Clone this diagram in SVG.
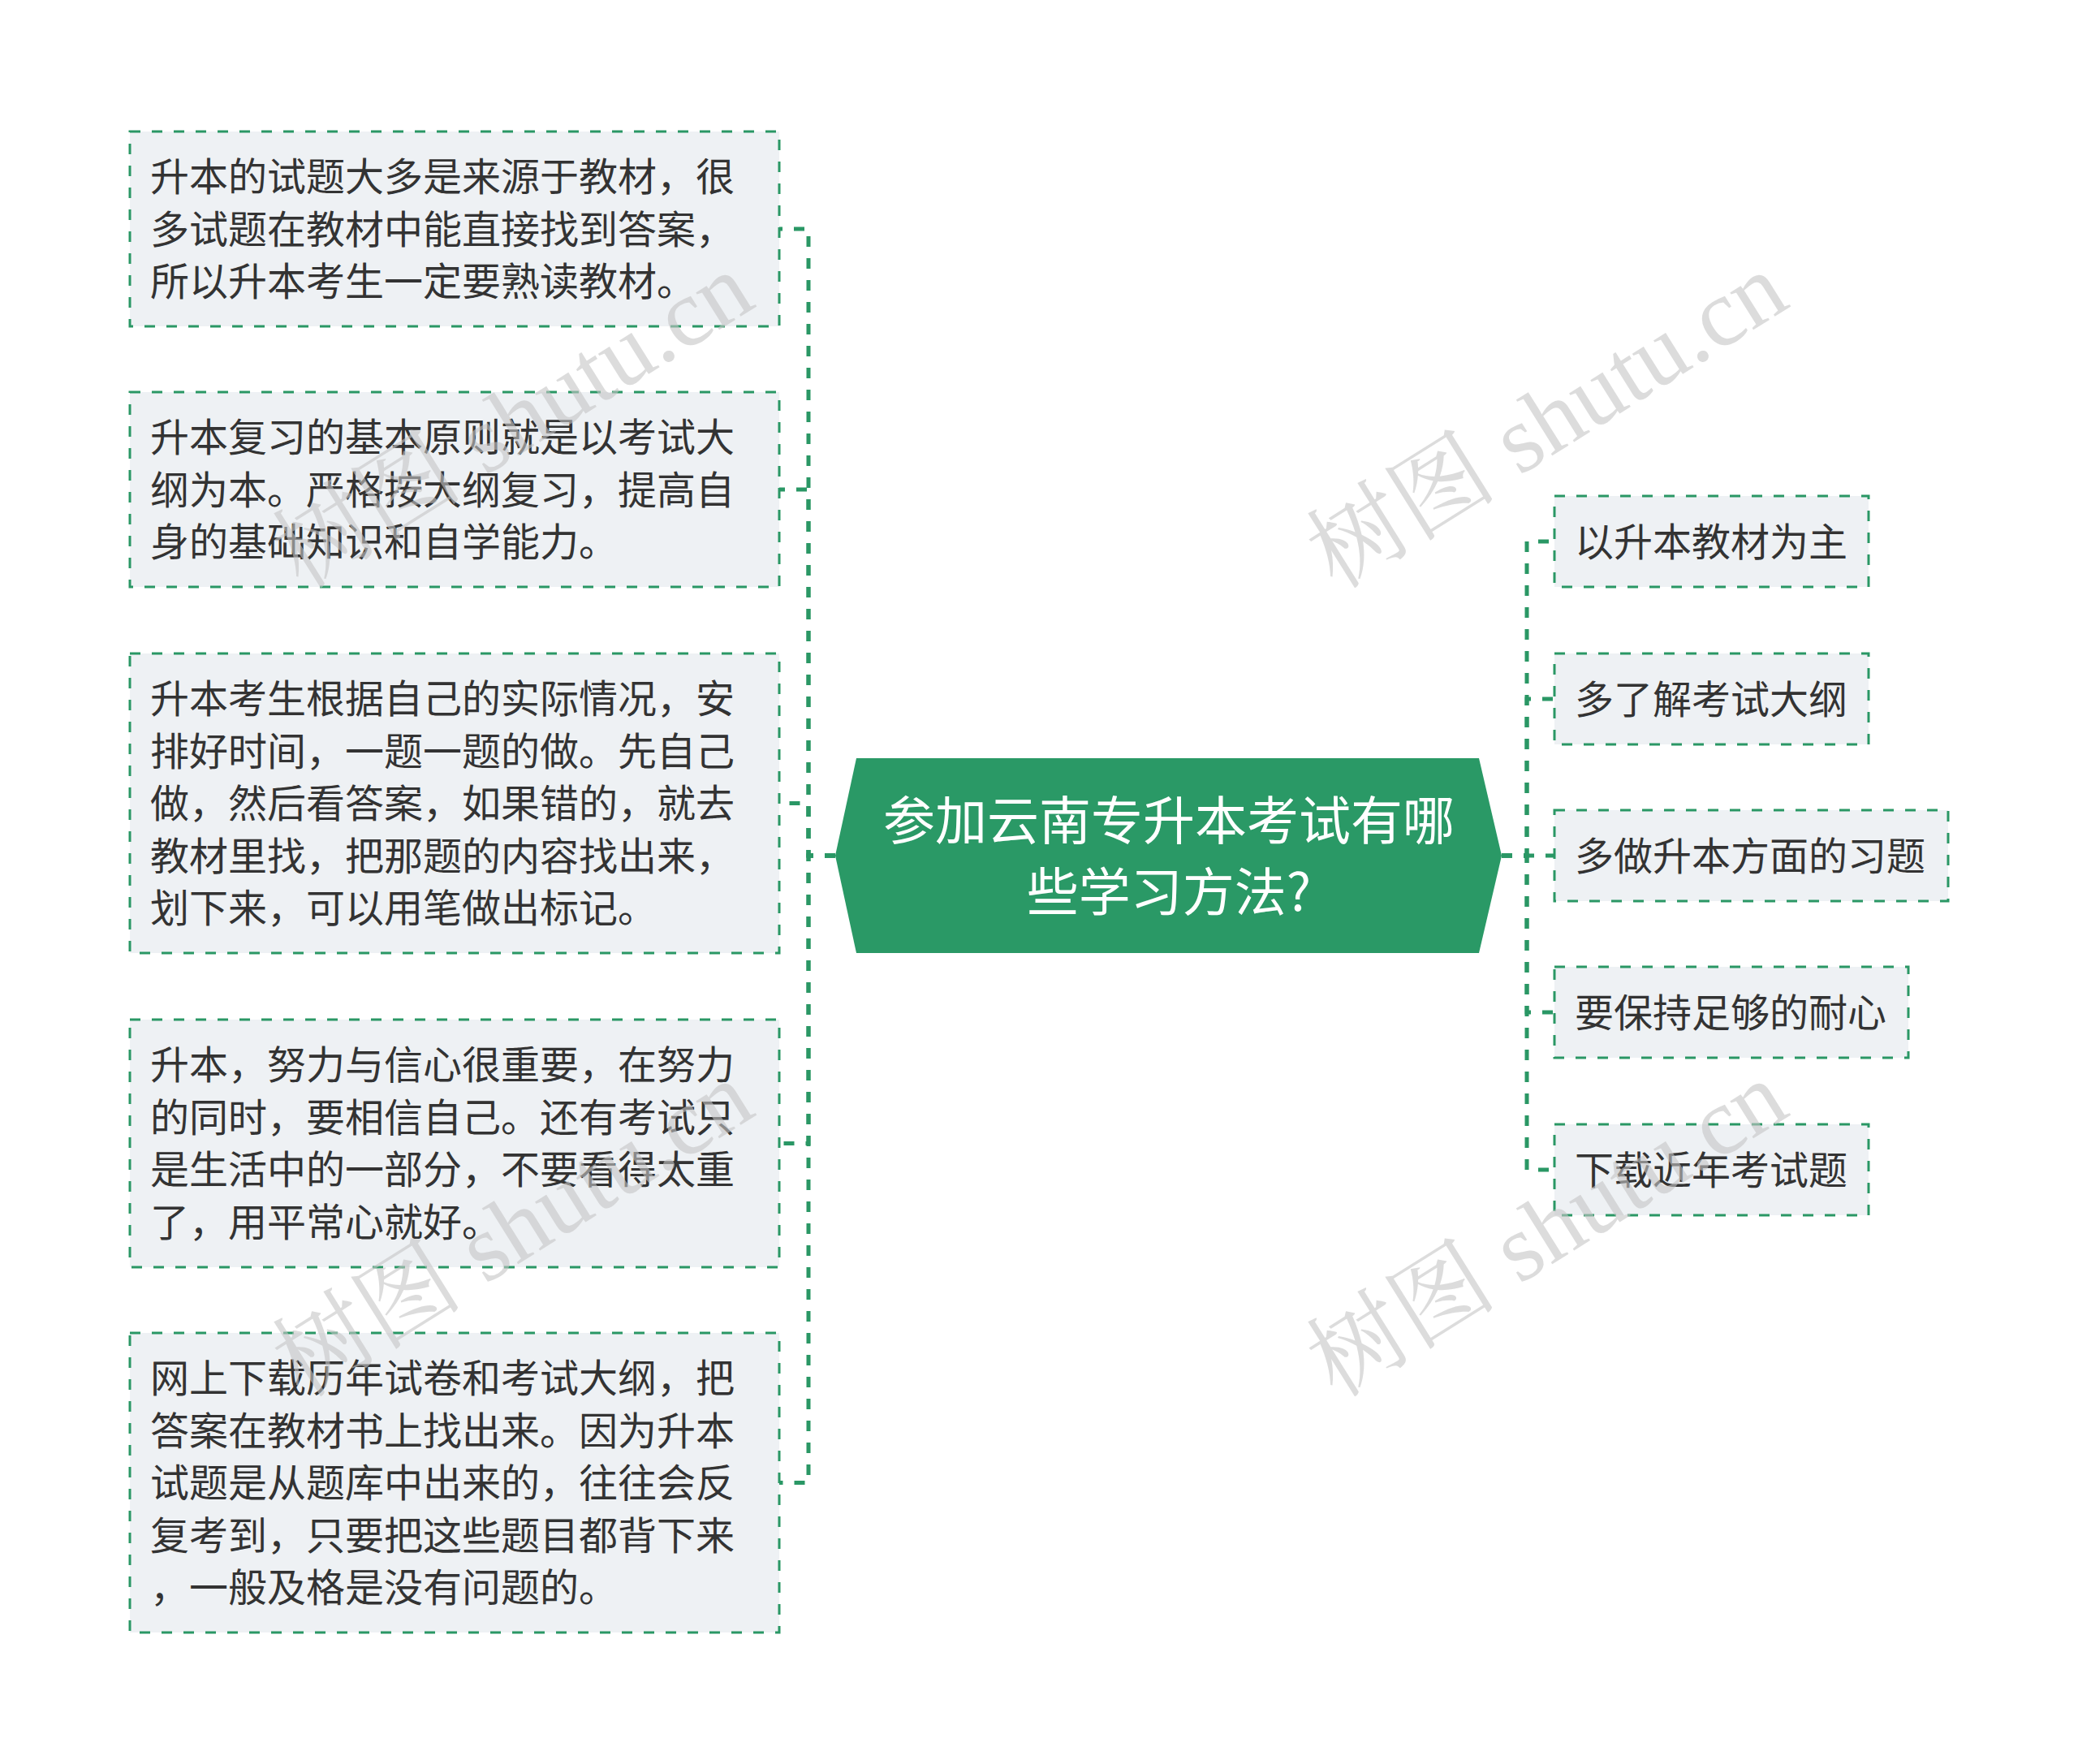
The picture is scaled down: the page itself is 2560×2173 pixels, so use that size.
<svg xmlns="http://www.w3.org/2000/svg" width="2560" height="2173" viewBox="0 0 2560 2173">
<style>
.box{fill:#eef1f4;stroke:#2a9765;stroke-width:3;stroke-dasharray:13 14}
.t{font-family:"Noto Sans CJK SC","Noto Sans",sans-serif;font-size:48px;fill:#333333}
.ct{font-family:"Noto Sans CJK SC","Noto Sans",sans-serif;font-size:64px;fill:#ffffff;text-anchor:middle}
.ln{fill:none;stroke:#2a9765;stroke-width:5;stroke-dasharray:13 14}
.wm{font-family:"Liberation Serif","Noto Serif CJK SC","Noto Sans CJK SC",serif;font-size:118px;fill:#c4c4c4;fill-opacity:0.6;text-anchor:middle}
</style>
<rect width="2560" height="2173" fill="#ffffff"/>
<g id="connectors">
<path class="ln" d="M1029 1054 H996 V282 H960"/>
<path class="ln" d="M1029 1054 H996 V603 H960"/>
<path class="ln" d="M1029 1054 H996 V989.5 H960"/>
<path class="ln" d="M1029 1054 H996 V1408.5 H960"/>
<path class="ln" d="M1029 1054 H996 V1826.5 H960"/>
<path class="ln" d="M1850 1054 H1881 V667 H1915"/>
<path class="ln" d="M1850 1054 H1881 V861 H1915"/>
<path class="ln" d="M1850 1054 H1881 V1054 H1915"/>
<path class="ln" d="M1850 1054 H1881 V1247 H1915"/>
<path class="ln" d="M1850 1054 H1881 V1441 H1915"/>
</g>
<g id="center">
<polygon points="1029,1054 1055,934 1822,934 1850,1054 1822,1174 1055,1174" fill="#2a9966"/>
<text class="ct" x="1440" y="1034">参加云南专升本考试有哪</text>
<text class="ct" x="1440" y="1122">些学习方法?</text>
</g>
<g id="left1">
<rect class="box" x="160" y="162" width="800" height="240"/>
<text class="t" x="185" y="235">升本的试题大多是来源于教材，很</text>
<text class="t" x="185" y="299.5">多试题在教材中能直接找到答案，</text>
<text class="t" x="185" y="364">所以升本考生一定要熟读教材。</text>
</g>
<g id="left2">
<rect class="box" x="160" y="483" width="800" height="240"/>
<text class="t" x="185" y="556">升本复习的基本原则就是以考试大</text>
<text class="t" x="185" y="620.5">纲为本。严格按大纲复习，提高自</text>
<text class="t" x="185" y="685">身的基础知识和自学能力。</text>
</g>
<g id="left3">
<rect class="box" x="160" y="805" width="800" height="369"/>
<text class="t" x="185" y="878">升本考生根据自己的实际情况，安</text>
<text class="t" x="185" y="942.5">排好时间，一题一题的做。先自己</text>
<text class="t" x="185" y="1007">做，然后看答案，如果错的，就去</text>
<text class="t" x="185" y="1071.5">教材里找，把那题的内容找出来，</text>
<text class="t" x="185" y="1136">划下来，可以用笔做出标记。</text>
</g>
<g id="left4">
<rect class="box" x="160" y="1256" width="800" height="305"/>
<text class="t" x="185" y="1329">升本，努力与信心很重要，在努力</text>
<text class="t" x="185" y="1393.5">的同时，要相信自己。还有考试只</text>
<text class="t" x="185" y="1458">是生活中的一部分，不要看得太重</text>
<text class="t" x="185" y="1522.5">了，用平常心就好。</text>
</g>
<g id="left5">
<rect class="box" x="160" y="1642" width="800" height="369"/>
<text class="t" x="185" y="1715">网上下载历年试卷和考试大纲，把</text>
<text class="t" x="185" y="1779.5">答案在教材书上找出来。因为升本</text>
<text class="t" x="185" y="1844">试题是从题库中出来的，往往会反</text>
<text class="t" x="185" y="1908.5">复考到，只要把这些题目都背下来</text>
<text class="t" x="185" y="1973">，一般及格是没有问题的。</text>
</g>
<g id="right1">
<rect class="box" x="1915" y="611" width="387" height="112"/>
<text class="t" x="1940" y="685">以升本教材为主</text>
</g>
<g id="right2">
<rect class="box" x="1915" y="805" width="387" height="112"/>
<text class="t" x="1940" y="879">多了解考试大纲</text>
</g>
<g id="right3">
<rect class="box" x="1915" y="998" width="485" height="112"/>
<text class="t" x="1940" y="1072">多做升本方面的习题</text>
</g>
<g id="right4">
<rect class="box" x="1915" y="1191" width="436" height="112"/>
<text class="t" x="1940" y="1265">要保持足够的耐心</text>
</g>
<g id="right5">
<rect class="box" x="1915" y="1385" width="387" height="112"/>
<text class="t" x="1940" y="1459">下载近年考试题</text>
</g>
<g id="watermarks">
<text class="wm" transform="translate(653,552) rotate(-32)">树图 shutu.cn</text>
<text class="wm" transform="translate(1927,552) rotate(-32)">树图 shutu.cn</text>
<text class="wm" transform="translate(653,1548) rotate(-32)">树图 shutu.cn</text>
<text class="wm" transform="translate(1927,1548) rotate(-32)">树图 shutu.cn</text>
</g>
</svg>
